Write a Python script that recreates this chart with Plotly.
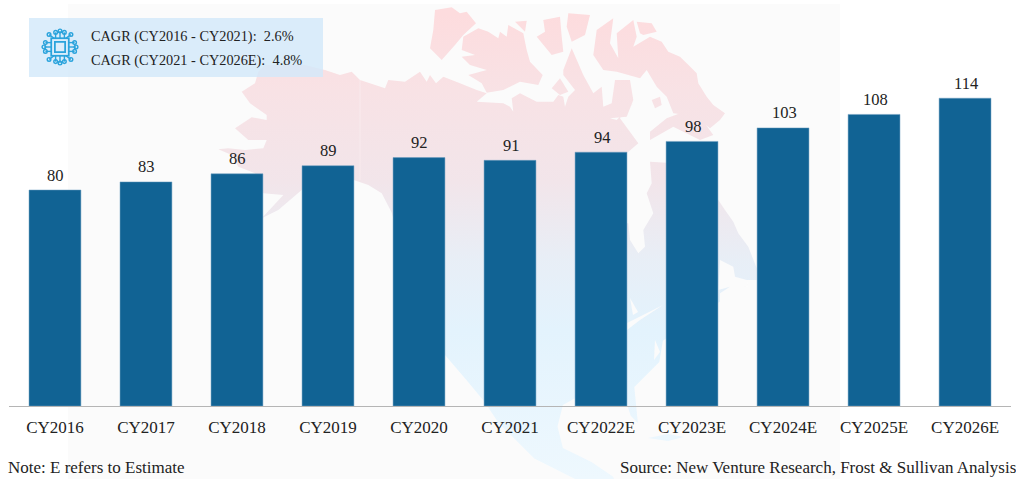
import base64
import plotly.graph_objects as go

categories = ["CY2016","CY2017","CY2018","CY2019","CY2020","CY2021","CY2022E","CY2023E","CY2024E","CY2025E","CY2026E"]
values = [80,83,86,89,92,91,94,98,103,108,114]
cagr_lines = ["CAGR (CY2016 - CY2021):  2.6%", "CAGR (CY2021 - CY2026E):  4.8%"]
note_text = "Note: E refers to Estimate"
source_text = "Source: New Venture Research, Frost & Sullivan Analysis"

W, H = 1016, 479
ML, MR, MT, MB = 9, 5, 28, 73
PW, PH = W - ML - MR, H - MT - MB
FONT = "Liberation Serif, Times New Roman, serif"
INK = "#222222"

# Decorative backdrop: faint map silhouette traced in page pixels, not chart data
def tr(ox, oy, pts, s=3.0):
    return " ".join(f"{ox + x / s:.1f},{oy + y / s:.1f}" for x, y in pts)

alaska_n = tr(205, 60, [(110,95),(150,70),(160,35),(180,15),(300,15),(360,30),(405,45),(440,35),(465,60),(540,85),(550,60),(600,65)])
north = tr(420, 0, [(0,215),(20,245),(30,225),(48,250),(70,230),(120,250),(170,270),(200,280),(170,305),(250,310),(270,320),(280,335),(275,295),(300,280),(350,305),(400,305),(415,285),(430,290),(435,320),(445,290),(465,270),(430,225),(430,210),(455,145),(490,225),(520,280),(545,260),(550,320),(575,310),(585,240),(630,240),(640,300),(620,350),(570,355),(590,360)])
hudson_w = tr(600, 90, [(100,40),(60,85),(115,160),(80,190),(60,190),(60,400),(85,400),(90,450),(115,490),(135,470),(130,420),(160,370),(140,310),(155,280),(150,215),(200,218),(355,330),(375,360),(400,395),(415,430),(445,470),(470,535),(470,570),(440,570),(405,560),(400,530),(360,510),(355,600),(390,590),(360,610)])
us_south = tr(220, 180, [(1400,340),(1240,450),(1230,510),(1160,580),(1170,680),(1150,660),(1130,600),(995,610),(960,630),(945,690),(960,750),(1040,790),(1100,830),(1130,897),(1090,897),(1000,840),(880,780),(780,680),(740,620),(690,560),(630,490),(600,400),(530,250),(480,90)], s=2.8)
alaska_s = tr(205, 60, [(530,400),(490,375),(446,360),(350,350),(290,390),(220,450),(170,475),(235,405),(175,400),(150,340),(100,320),(80,285),(40,268),(70,265),(120,270),(175,265),(185,240),(130,240),(90,205),(140,172),(185,180),(185,165),(135,130)])
main_land = " ".join([alaska_n, north, hudson_w, us_south, alaska_s])

islands = [
    tr(420, 0, [(45,30),(95,22),(120,40),(140,35),(168,70),(130,105),(105,135),(65,180),(30,145),(40,90)]),
    tr(420, 0, [(130,110),(175,85),(205,95),(235,115),(240,95),(260,110),(265,75),(310,100),(320,150),(330,185),(368,225),(355,255),(300,245),(250,270),(200,278),(185,250),(145,225),(200,210),(150,195),(125,170),(165,165),(125,150)]),
    tr(420, 0, [(285,65),(320,62),(315,95)]),
    tr(420, 0, [(370,60),(420,50),(425,110),(430,155),(395,165),(350,110),(375,95)]),
    tr(420, 0, [(445,40),(510,45),(495,105),(455,125),(440,80)]),
    tr(420, 0, [(530,90),(580,55),(570,130),(595,175),(590,100),(640,60),(650,110),(640,140),(690,110),(725,125),(745,155),(780,170),(800,190),(830,220),(835,250),(860,290),(880,315),(915,340),(900,360),(870,385),(850,370),(800,345),(760,340),(740,290),(710,260),(680,210),(660,235),(590,215),(550,210),(520,165)]),
    tr(420, 0, [(650,65),(695,70),(710,95),(670,105),(660,100)]),
    tr(420, 0, [(395,265),(420,235),(445,275),(420,285)]),
    tr(420, 0, [(695,300),(720,290),(725,315),(705,325)]),
    tr(600, 90, [(240,70),(300,80),(340,135),(300,150),(220,110),(150,150),(150,125),(200,85)]),
    "648,438 668,434 684,437 668,441",
]
lakes = [
    "627,323 663,305 640,320 627,330",
    "630,298 638,312 633,315",
    "655,340 660,352 654,360",
    "743,282 747,282 748,286 744,287",
]
polys = "".join(f'<polygon points="{p}" fill="url(#g)"/>' for p in [main_land] + islands)
holes = "".join(f'<polygon points="{p}" fill="#fbfbfb"/>' for p in lakes)
bg_svg = f'''<svg xmlns="http://www.w3.org/2000/svg" width="{W}" height="{H}" viewBox="0 0 {W} {H}">
<defs><linearGradient id="g" gradientUnits="userSpaceOnUse" x1="0" y1="0" x2="0" y2="479">
<stop offset="0.03" stop-color="#fddcde"/><stop offset="0.19" stop-color="#f8e2e5"/>
<stop offset="0.38" stop-color="#f2e5ea"/><stop offset="0.54" stop-color="#e8eef6"/>
<stop offset="0.69" stop-color="#e3f3fd"/><stop offset="1" stop-color="#eef8fe"/></linearGradient>
<filter id="b"><feGaussianBlur stdDeviation="0.5"/></filter></defs>
<rect x="0" y="0" width="{W}" height="{H}" fill="#ffffff"/>
<rect x="68" y="4" width="772" height="475" fill="#fbfbfb"/>
<g filter="url(#b)">{polys}{holes}<line x1="360" y1="80" x2="360" y2="180" stroke="#fbeef0" stroke-width="0.7"/></g></svg>'''

# Chip icon
C = "#2aa3dc"
chip = [f'<rect x="19" y="19" width="14" height="14" fill="none" stroke="{C}" stroke-width="2.4"/>',
        f'<rect x="14" y="14" width="24" height="24" fill="none" stroke="{C}" stroke-width="2.4"/>']
for a, b in [(20,6),(26,4),(32,6),(20,46),(26,48),(32,46),(6,20),(4,26),(6,32),(46,20),(48,26),(46,32),(11,9),(41,9),(11,43),(41,43)]:
    x0 = min(max(a,18),34); y0 = min(max(b,18),34)
    if b < 10 or b > 42:
        y0 = 14 if b < 26 else 38
    if a < 10 or a > 42:
        x0 = 14 if a < 26 else 38
    chip.append(f'<line x1="{x0}" y1="{y0}" x2="{a}" y2="{b}" stroke="{C}" stroke-width="1.9"/>')
    chip.append(f'<circle cx="{a}" cy="{b}" r="2.5" fill="none" stroke="{C}" stroke-width="1.9"/>')
chip_svg = f'<svg xmlns="http://www.w3.org/2000/svg" width="52" height="52" viewBox="0 0 52 52">{"".join(chip)}</svg>'

def uri(s):
    return "data:image/svg+xml;base64," + base64.b64encode(s.encode()).decode()
def px(x): return (x - ML) / PW
def py(y): return 1 - (y - MT) / PH

fig = go.Figure(go.Bar(
    x=categories, y=values, cliponaxis=False,
    marker=dict(color="#116394", line=dict(color="#6f9fc0", width=0.5)),
    hoverinfo="skip", width=0.57,
))

annotations = [
    dict(text=str(v), x=c, y=v, xref="x", yref="y", yshift=15, xshift=1, xanchor="center", yanchor="middle",
         showarrow=False, font=dict(family=FONT, size=16.5, color=INK))
    for c, v in zip(categories, values)
]
annotations += [
    dict(text=cagr_lines[0], x=px(89), y=py(36), xref="paper", yref="paper", xanchor="left", yanchor="middle",
         showarrow=False, font=dict(family=FONT, size=14.3, color=INK)),
    dict(text=cagr_lines[1], x=px(89), y=py(60), xref="paper", yref="paper", xanchor="left", yanchor="middle",
         showarrow=False, font=dict(family=FONT, size=14.3, color=INK)),
    dict(text=note_text, x=px(7), y=py(467.5), xref="paper", yref="paper", xanchor="left", yanchor="middle",
         showarrow=False, font=dict(family=FONT, size=17, color=INK), xshift=-1),
    dict(text=source_text, x=px(1018), y=py(467.5), xref="paper", yref="paper", xanchor="right", yanchor="middle",
         showarrow=False, font=dict(family=FONT, size=17, color=INK)),
]

fig.update_layout(
    width=W, height=H, autosize=False, showlegend=False,
    margin=dict(l=ML, r=MR, t=MT, b=MB, pad=0),
    paper_bgcolor="rgba(0,0,0,0)", plot_bgcolor="rgba(0,0,0,0)",
    font=dict(family=FONT, color=INK),
    xaxis=dict(type="category", showline=True, linecolor="#b5b5b5", linewidth=1, ticks="", range=[-0.505, 10.505],
               tickfont=dict(family=FONT, size=17, color=INK), showgrid=False, ticklabelstandoff=6),
    yaxis=dict(range=[0, 140], visible=False),
    images=[
        dict(source=uri(bg_svg), xref="paper", yref="paper", x=px(0), y=py(0), sizex=W/PW, sizey=H/PH,
             sizing="stretch", xanchor="left", yanchor="top", layer="below"),
        dict(source=uri(chip_svg), xref="paper", yref="paper", x=px(41), y=py(28), sizex=38/PW, sizey=38/PH,
             sizing="stretch", xanchor="left", yanchor="top", layer="above"),
    ],
    shapes=[dict(type="rect", xref="paper", yref="paper", x0=px(29), x1=px(323), y0=py(18), y1=py(77),
                 fillcolor="rgba(210,233,250,0.8)", line=dict(width=0), layer="below")],
    annotations=annotations,
)

fig.write_html("out.html", config=dict(displayModeBar=False),
               post_script="document.body.style.margin='0';document.body.style.overflow='hidden';window.dispatchEvent(new Event('resize'));")
